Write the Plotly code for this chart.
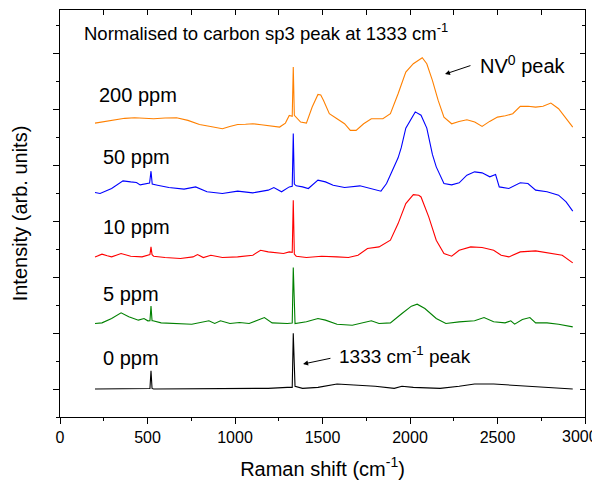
import plotly.graph_objects as go

# ---- data (Raman shift in cm^-1, intensity relative to each spectrum's baseline, normalised) ----
x_200 = [200, 260, 317, 370, 426, 480, 535, 600, 666, 731, 797, 860, 928, 970, 1015, 1060, 1102, 1150, 1190, 1255,
         1288, 1310, 1327, 1333, 1339, 1350, 1375, 1408, 1441, 1474, 1490, 1506, 1539, 1583, 1626, 1659, 1692, 1735,
         1779, 1845, 1888, 1932, 1976, 2019, 2050, 2070, 2096, 2128, 2161, 2194, 2238, 2280, 2325, 2370, 2412, 2455,
         2500, 2545, 2587, 2630, 2675, 2718, 2760, 2805, 2849, 2892, 2930]
i_200 = [0, 0.03, 0.06, 0.085, 0.095, 0.08, 0.077, 0.09, 0.095, 0.048, -0.024, -0.06, -0.10, -0.06, -0.024, -0.02,
         -0.012, -0.03, -0.042, -0.071, 0, 0.137, 0.12, 1.0, 0.14, 0.10, 0.018, 0, 0.286, 0.512, 0.50, 0.405, 0.167,
         0.077, -0.012, -0.131, -0.131, -0.012, 0.077, 0.077, 0.167, 0.524, 0.911, 1.06, 1.12, 1.167, 1.06, 0.762,
         0.405, 0.107, -0.012, 0.03, 0.06, 0.02, -0.06, 0.03, 0.107, 0.13, 0.167, 0.298, 0.30, 0.286, 0.30, 0.357,
         0.256, 0.077, -0.071]

x_50 = [200, 229, 295, 360, 404, 437, 458, 491, 512, 520, 527, 557, 622, 709, 775, 840, 928, 1015, 1102, 1190, 1222,
        1266, 1310, 1327, 1333, 1339, 1350, 1386, 1419, 1474, 1517, 1561, 1626, 1714, 1779, 1834, 1866, 1899, 1932,
        1950, 1976, 2030, 2063, 2096, 2128, 2150, 2194, 2238, 2281, 2325, 2369, 2412, 2456, 2489, 2510, 2565, 2630,
        2674, 2718, 2783, 2849, 2892, 2930]
i_50 = [0, -0.018, 0.071, 0.208, 0.19, 0.179, 0.137, 0.16, 0.17, 0.381, 0.15, 0.131, 0.089, 0.06, 0.1, 0.012, -0.018,
        0.024, -0.006, 0.042, 0.089, 0.012, 0.1, 0.11, 1.054, 0.15, 0.12, 0.1, 0.071, 0.22, 0.19, 0.131, 0.089, 0.119,
        0.071, 0.024, 0.161, 0.399, 0.62, 0.80, 1.15, 1.44, 1.38, 1.15, 0.68, 0.458, 0.161, 0.137, 0.173, 0.31, 0.369,
        0.351, 0.28, 0.321, 0.1, 0.071, 0.173, 0.161, 0.042, 0.012, -0.048, -0.167, -0.333]

x_10 = [200, 240, 270, 295, 349, 404, 469, 502, 514, 520, 526, 535, 600, 688, 760, 786, 819, 862, 928, 1015, 1102,
        1146, 1190, 1277, 1310, 1327, 1333, 1339, 1350, 1408, 1495, 1583, 1648, 1703, 1757, 1823, 1888, 1932, 1976,
        2019, 2050, 2063, 2107, 2150, 2194, 2238, 2281, 2347, 2412, 2478, 2521, 2565, 2630, 2718, 2805, 2870, 2930]
i_10 = [0, 0.048, 0.02, 0, 0.06, 0.012, 0, 0.03, 0.04, 0.179, 0.04, 0.012, -0.012, -0.03, 0.0, 0.042, -0.012, 0.03,
        -0.012, 0, 0.03, 0.119, 0.089, 0.06, 0.089, 0.08, 1.012, 0.05, 0.012, -0.012, 0.012, 0, -0.012, 0.03, 0.149,
        0.179, 0.298, 0.595, 0.952, 1.113, 1.10, 1.071, 0.714, 0.298, 0.06, 0.012, 0.119, 0.179, 0.167, 0.119, 0.03,
        0, 0.089, 0.107, 0.06, 0.03, -0.107]

x_5 = [200, 240, 295, 349, 393, 448, 480, 502, 514, 520, 526, 531, 578, 666, 753, 851, 884, 917, 971, 1026, 1081,
       1168, 1212, 1299, 1327, 1333, 1339, 1343, 1408, 1474, 1517, 1583, 1670, 1757, 1779, 1823, 1888, 1954, 2008,
       2041, 2085, 2150, 2205, 2281, 2369, 2423, 2478, 2543, 2576, 2598, 2642, 2685, 2718, 2783, 2849, 2930]
i_5 = [0, 0.012, 0.089, 0.19, 0.119, 0.06, 0.089, 0.048, 0.05, 0.31, 0.05, 0.048, 0.012, 0, -0.012, 0.048, 0, 0.048,
       0, 0.018, 0, 0.107, 0.012, 0, 0.01, 1.0, 0.01, 0, 0.03, 0.089, 0.06, -0.012, -0.03, 0.03, 0.048, 0, 0.012,
       0.179, 0.31, 0.345, 0.268, 0.089, 0, 0.03, 0.048, 0.107, 0.03, 0.012, 0.048, -0.012, 0.071, 0.107, 0.012,
       0.012, -0.012, -0.06]

x_0 = [200, 317, 491, 514, 520, 526, 535, 753, 971, 1190, 1299, 1327, 1333, 1339, 1343, 1386, 1474, 1583, 1670, 1801,
       1910, 1954, 2019, 2172, 2281, 2369, 2478, 2609, 2762, 2930]
i_0 = [0, 0, 0.012, 0.01, 0.327, 0.01, 0, 0, 0, 0.012, 0.03, 0.03, 0.994, 0.05, 0.048, 0.012, 0.03, 0.089, 0.071,
       0.048, 0.012, 0.048, 0.03, 0.012, 0.048, 0.089, 0.089, 0.06, 0.03, 0]

labels = ["0 ppm", "5 ppm", "10 ppm", "50 ppm", "200 ppm"]
offsets = [0.0, 1.17, 2.36, 3.51, 4.75]
colors = ["#000000", "#008000", "#FF0000", "#0000FF", "#FF8000"]
xs = [x_0, x_5, x_10, x_50, x_200]
ys = [i_0, i_5, i_10, i_50, i_200]

x_tickvals = [0, 500, 1000, 1500, 2000, 2500, 3000]
x_ticktext = ["0", "500", "1000", "1500", "2000", "2500", ""]   # "3000" drawn as annotation to keep it in view
last_tick_label = "3000"

FONT = "Arial, Liberation Sans, sans-serif"

fig = go.Figure()
for lab, off, col, xv, yv in zip(labels, offsets, colors, xs, ys):
    fig.add_trace(go.Scatter(x=xv, y=[v + off for v in yv], mode="lines", name=lab,
                             line=dict(color=col, width=1.1), showlegend=False))

# empty trace so the mirrored (inside-tick) axes are drawn
fig.add_trace(go.Scatter(x=[], y=[], xaxis="x2", yaxis="y2", showlegend=False, hoverinfo="skip"))

XR = [0, 3000]
YR = [-0.5, 6.77]

fig.update_layout(
    width=592, height=476,
    margin=dict(l=52, r=15, t=2, b=67, autoexpand=False),
    paper_bgcolor="white", plot_bgcolor="white",
    font=dict(family=FONT, color="black"),
    xaxis=dict(range=XR, tickmode="array", tickvals=x_tickvals, ticktext=x_ticktext, ticks="outside", ticklen=6,
               tickwidth=1, tickcolor="black", showline=True, linecolor="black", linewidth=1, mirror=True,
               showgrid=False, zeroline=False, tickfont=dict(size=16),
               ticklabeloverflow="allow",
               minor=dict(dtick=250, tick0=0, ticks="outside", ticklen=3, tickcolor="black"),
               title=dict(text="Raman shift (cm<sup>-1</sup>)", font=dict(size=20), standoff=16)),
    yaxis=dict(range=YR, tickmode="linear", tick0=0, dtick=1, ticks="outside", ticklen=6, tickwidth=1,
               tickcolor="black", showline=True, linecolor="black", linewidth=1, mirror=True,
               showgrid=False, zeroline=False, showticklabels=False,
               minor=dict(dtick=0.5, tick0=0, ticks="outside", ticklen=3, tickcolor="black"),
               title=dict(text="Intensity (arb. units)", font=dict(size=20), standoff=20)),
    xaxis2=dict(range=XR, overlaying="x", side="top", tickmode="linear", tick0=0, dtick=500, ticks="inside",
                ticklen=5, tickcolor="black", showticklabels=False, showgrid=False, zeroline=False, showline=False,
                minor=dict(dtick=250, ticks="inside", ticklen=5, tickcolor="black")),
    yaxis2=dict(range=YR, overlaying="y", side="right", tickmode="linear", tick0=0, dtick=1, ticks="inside",
                ticklen=5, tickcolor="black", showticklabels=False, showgrid=False, zeroline=False, showline=False,
                minor=dict(dtick=0.5, tick0=0, ticks="inside", ticklen=3, tickcolor="black")),
)

# last x tick label, kept inside the page
fig.add_annotation(x=1.0286, y=-0.049, xref="paper", yref="paper", text=last_tick_label, showarrow=False,
                   xanchor="right", yanchor="middle", font=dict(size=16, family=FONT))

# spectrum labels
label_pos = [(234, 0.55), (234, 1.70), (234, 2.89), (234, 4.14), (211, 5.25)]
for lab, (lx, ly) in zip(labels, label_pos):
    fig.add_annotation(x=lx, y=ly, xref="x", yref="y", text=lab, showarrow=False, xanchor="left",
                       yanchor="middle", font=dict(size=20, family=FONT))

fig.add_annotation(x=123, y=6.38, xref="x", yref="y", text="Normalised to carbon sp3 peak at 1333 cm<sup>-1</sup>",
                   showarrow=False, xanchor="left", yanchor="middle", font=dict(size=18.5, family=FONT))
fig.add_annotation(x=2389, y=5.79, xref="x", yref="y", text="NV<sup>0</sup> peak",
                   showarrow=False, xanchor="left", yanchor="middle", font=dict(size=20, family=FONT))
fig.add_annotation(x=1583, y=0.61, xref="x", yref="y", text="1333 cm<sup>-1</sup> peak",
                   showarrow=False, xanchor="left", yanchor="middle", font=dict(size=19, family=FONT))

# arrows
fig.add_annotation(x=2200, y=5.625, ax=2354, ay=5.786, xref="x", yref="y", axref="x", ayref="y", text="",
                   showarrow=True, arrowhead=2, arrowsize=1, arrowwidth=1, arrowcolor="black")
fig.add_annotation(x=1389, y=0.446, ax=1554, ay=0.554, xref="x", yref="y", axref="x", ayref="y", text="",
                   showarrow=True, arrowhead=2, arrowsize=1, arrowwidth=1, arrowcolor="black")

fig.write_html("out.html")
